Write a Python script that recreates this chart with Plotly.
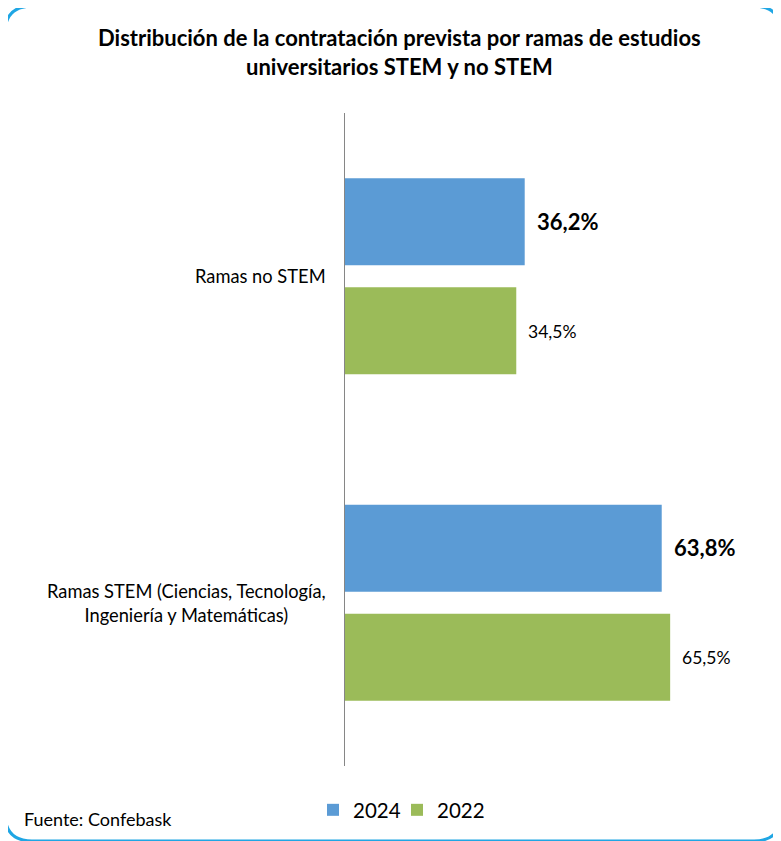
import plotly.graph_objects as go

categories = ["Ramas no STEM", "Ramas STEM (Ciencias, Tecnología,<br>Ingeniería y Matemáticas)"]
series_names = ["2024", "2022"]
values_2024 = [36.2, 63.8]
values_2022 = [34.5, 65.5]
labels_2024 = ["36,2%", "63,8%"]
labels_2022 = ["34,5%", "65,5%"]
colors = ["#5b9bd5", "#9bbb59"]

OFF = 8  # browser default body margin
W, H = 781 - OFF, 841 - OFF
ML, MR, MT, MB = 345 - OFF, 19, 113 - OFF, 74
PW, PH = W - ML - MR, H - MT - MB
FONT = "Lato"

def px(x):
    return (x - OFF - ML) / PW

def py(y):
    return (H - MB - (y - OFF)) / PH

fig = go.Figure()
for i, (name, vals, col) in enumerate([(series_names[0], values_2024, colors[0]),
                                       (series_names[1], values_2022, colors[1])]):
    fig.add_trace(go.Bar(y=categories, x=vals, name=name, orientation="h",
                         legend="legend" if i == 0 else "legend2",
                         marker=dict(color=col, line=dict(width=0))))

annotations = []
for cat, v, t in zip(categories, values_2024, labels_2024):
    annotations.append(dict(x=v, y=cat, xref="x", yref="y", text="<b>%s</b>" % t, showarrow=False,
                            xanchor="left", yanchor="middle", xshift=10, yshift=55,
                            font=dict(family=FONT, size=22, color="#000")))
for cat, v, t in zip(categories, values_2022, labels_2022):
    annotations.append(dict(x=v, y=cat, xref="x", yref="y", text=t, showarrow=False,
                            xanchor="left", yanchor="middle", xshift=10, yshift=-55,
                            font=dict(family=FONT, size=17.5, color="#000")))
for cat in categories:
    annotations.append(dict(x=0, y=cat, xref="paper", yref="y", text=cat, showarrow=False,
                            xanchor="right", yanchor="middle", xshift=-17, align="center",
                            font=dict(family=FONT, size=18.3, color="#000")))
annotations.append(dict(x=px(22), y=py(820), xref="paper", yref="paper", text="Fuente: Confebask",
                        showarrow=False, xanchor="left", yanchor="middle",
                        font=dict(family=FONT, size=18, color="#000")))
annotations.append(dict(x=px(399), y=py(52), xref="paper", yref="paper",
                        text="<b>Distribución de la contratación prevista por ramas de estudios<br>universitarios STEM y no STEM</b>",
                        showarrow=False, xanchor="center", yanchor="middle", align="center",
                        font=dict(family=FONT, size=22, color="#000")))

# rounded border
x0, x1, y0, y1, r = 5, 781, 6, 842, 27
path = (f"M {px(x0+r)},{py(y0)} L {px(x1-r)},{py(y0)} Q {px(x1)},{py(y0)} {px(x1)},{py(y0+r)} "
        f"L {px(x1)},{py(y1-r)} Q {px(x1)},{py(y1)} {px(x1-r)},{py(y1)} "
        f"L {px(x0+r)},{py(y1)} Q {px(x0)},{py(y1)} {px(x0)},{py(y1-r)} "
        f"L {px(x0)},{py(y0+r)} Q {px(x0)},{py(y0)} {px(x0+r)},{py(y0)} Z")

leg_common = dict(orientation="h", yanchor="middle", xanchor="left", y=py(810),
                  font=dict(family=FONT, size=20.5, color="#000"), itemwidth=30,
                  bgcolor="rgba(0,0,0,0)")
fig.update_layout(
    width=W, height=H, margin=dict(l=ML, r=MR, t=MT, b=MB),
    paper_bgcolor="white", plot_bgcolor="white",
    barmode="group", bargap=0.333, bargroupgap=0.2,
    font=dict(family=FONT, size=16, color="#000"),
    xaxis=dict(range=[0, 84], visible=False, showgrid=False, zeroline=False),
    yaxis=dict(autorange="reversed", showticklabels=False, showline=True, linecolor="#868686",
               linewidth=1, ticks="", showgrid=False, zeroline=False),
    legend=dict(x=px(313), **leg_common),
    legend2=dict(x=px(397), **leg_common),
    annotations=annotations,
    shapes=[dict(type="path", path=path, xref="paper", yref="paper",
                 line=dict(color="#1fa6e4", width=3), layer="above")],
    showlegend=True,
)
fig.write_html("out.html")
